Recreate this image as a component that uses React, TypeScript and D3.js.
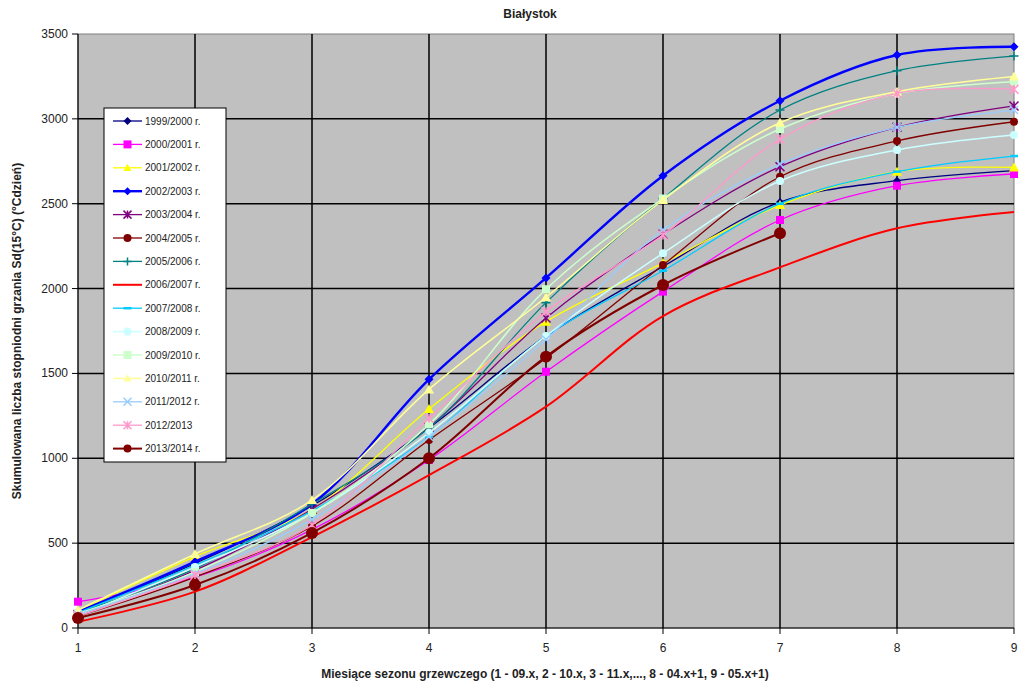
import * as d3 from "d3";

const months = [1, 2, 3, 4, 5, 6, 7, 8, 9];
const yTicks = [0, 500, 1000, 1500, 2000, 2500, 3000, 3500];

const seasons = [
  "1999/2000 r.", "2000/2001 r.", "2001/2002 r.", "2002/2003 r.", "2003/2004 r.",
  "2004/2005 r.", "2005/2006 r.", "2006/2007 r.", "2007/2008 r.", "2008/2009 r.",
  "2009/2010 r.", "2010/2011 r.", "2011/2012 r.", "2012/2013", "2013/2014 r.",
];

const s1999 = [90, 380, 720, 1180, 1720, 2130, 2510, 2636, 2695];
const s2000 = [155, 300, 580, 990, 1510, 1982, 2404, 2606, 2675];
const s2001 = [100, 420, 700, 1290, 1805, 2150, 2492, 2689, 2714];
const s2002 = [95, 391, 730, 1465, 2063, 2665, 3107, 3376, 3425];
const s2003 = [80, 340, 700, 1183, 1827, 2320, 2718, 2950, 3076];
const s2004 = [70, 300, 600, 1108, 1590, 2139, 2659, 2870, 2983];
const s2005 = [90, 350, 730, 1180, 1917, 2530, 3052, 3284, 3370];
const s2006 = [37, 214, 536, 901, 1304, 1838, 2125, 2355, 2451];
const s2007 = [90, 370, 690, 1127, 1720, 2105, 2500, 2689, 2781];
const s2008 = [75, 359, 677, 1150, 1721, 2208, 2634, 2817, 2905];
const s2009 = [85, 330, 677, 1200, 1996, 2530, 2940, 3150, 3219];
const s2010 = [106, 436, 754, 1406, 1949, 2522, 2977, 3160, 3249];
const s2011 = [80, 320, 640, 1127, 1700, 2345, 2734, 2950, 3052];
const s2012 = [70, 312, 607, 1236, 1864, 2316, 2880, 3150, 3174];
const s2013 = [59, 253, 560, 1000, 1599, 2021, 2326];

const values = [s1999, s2000, s2001, s2002, s2003, s2004, s2005, s2006, s2007, s2008, s2009, s2010, s2011, s2012, s2013];

type Style = { color: string; width: number; marker: string; size: number };
const styles: Style[] = [
  { color: "#000080", width: 1.3, marker: "diamond", size: 4 },
  { color: "#ff00ff", width: 1.3, marker: "square", size: 4 },
  { color: "#ffff00", width: 1.3, marker: "triangle", size: 5 },
  { color: "#0000ff", width: 2.4, marker: "diamond", size: 4.5 },
  { color: "#800080", width: 1.3, marker: "star", size: 4.5 },
  { color: "#800000", width: 1.3, marker: "circle", size: 4 },
  { color: "#008080", width: 1.3, marker: "plus", size: 4.5 },
  { color: "#ff0000", width: 2, marker: "none", size: 0 },
  { color: "#00ccff", width: 1.3, marker: "dash", size: 4 },
  { color: "#ccffff", width: 1.5, marker: "circle", size: 4 },
  { color: "#ccffcc", width: 1.5, marker: "square", size: 4 },
  { color: "#ffff99", width: 1.5, marker: "triangle", size: 5 },
  { color: "#99ccff", width: 1.3, marker: "x", size: 4 },
  { color: "#ff99cc", width: 1.3, marker: "star", size: 4.5 },
  { color: "#800000", width: 2, marker: "circle", size: 6 },
];

const W = 1024;
const H = 689;
const m = { left: 78, right: 1014, top: 34, bottom: 628 };
const font = "'Liberation Sans', Arial, sans-serif";

function Marker({ kind, x, y, s, color }: { kind: string; x: number; y: number; s: number; color: string }) {
  switch (kind) {
    case "diamond":
      return <path d={`M${x},${y - s}L${x + s},${y}L${x},${y + s}L${x - s},${y}Z`} fill={color} />;
    case "square":
      return <rect x={x - s} y={y - s} width={2 * s} height={2 * s} fill={color} />;
    case "triangle":
      return <path d={`M${x},${y - s}L${x + s},${y + s * 0.8}L${x - s},${y + s * 0.8}Z`} fill={color} />;
    case "circle":
      return <circle cx={x} cy={y} r={s} fill={color} />;
    case "star":
      return (
        <path
          d={`M${x - s},${y - s}L${x + s},${y + s}M${x - s},${y + s}L${x + s},${y - s}M${x},${y - s}L${x},${y + s}`}
          stroke={color}
          strokeWidth={1.5}
        />
      );
    case "x":
      return <path d={`M${x - s},${y - s}L${x + s},${y + s}M${x - s},${y + s}L${x + s},${y - s}`} stroke={color} strokeWidth={1.5} />;
    case "plus":
      return <path d={`M${x},${y - s}L${x},${y + s}M${x - s},${y}L${x + s},${y}`} stroke={color} strokeWidth={1.5} />;
    case "dash":
      return <path d={`M${x - s},${y}L${x + s},${y}`} stroke={color} strokeWidth={2.5} />;
    default:
      return null;
  }
}

export default function App() {
  const x = d3.scaleLinear().domain([1, 9]).range([m.left, m.right]);
  const y = d3.scaleLinear().domain([0, 3500]).range([m.bottom, m.top]);
  const line = d3
    .line<number>()
    .x((_, i) => x(months[i]))
    .y((d) => y(d))
    .curve(d3.curveCatmullRom.alpha(0.5));

  const legX = 104;
  const legY = 108;
  const legStep = 23.4;

  return (
    <div style={{ position: "fixed", left: 0, top: 0 }}>
      <svg width={W} height={H} style={{ display: "block", background: "#fff" }} fontFamily={font}>
        <text x={530} y={18} textAnchor="middle" fontSize={12} fontWeight="bold" fill="#222">
          Białystok
        </text>

        <rect x={m.left} y={m.top} width={m.right - m.left} height={m.bottom - m.top} fill="#c0c0c0" stroke="#808080" />

        {yTicks.slice(1, -1).map((t) => (
          <line key={t} x1={m.left} x2={m.right} y1={y(t)} y2={y(t)} stroke="#000" strokeWidth={1.5} />
        ))}
        {months.slice(1, -1).map((t) => (
          <line key={t} x1={x(t)} x2={x(t)} y1={m.top} y2={m.bottom} stroke="#000" strokeWidth={1.5} />
        ))}

        <line x1={m.left} x2={m.left} y1={m.top} y2={m.bottom} stroke="#000" strokeWidth={1.2} />
        <line x1={m.left} x2={m.right} y1={m.bottom} y2={m.bottom} stroke="#000" strokeWidth={1.2} />
        {yTicks.map((t) => (
          <g key={t}>
            <line x1={m.left - 6} x2={m.left} y1={y(t)} y2={y(t)} stroke="#000" />
            <text x={m.left - 10} y={y(t) + 4} textAnchor="end" fontSize={12} fill="#222">
              {t}
            </text>
          </g>
        ))}
        {months.map((t) => (
          <g key={t}>
            <line x1={x(t)} x2={x(t)} y1={m.bottom} y2={m.bottom + 6} stroke="#000" />
            <text x={x(t)} y={m.bottom + 24} textAnchor="middle" fontSize={12} fill="#222">
              {t}
            </text>
          </g>
        ))}

        <text x={545} y={678} textAnchor="middle" fontSize={12} fontWeight="bold" fill="#222">
          Miesiące sezonu grzewczego (1 - 09.x, 2 - 10.x, 3 - 11.x,..., 8 - 04.x+1, 9 - 05.x+1)
        </text>
        <text
          transform={`translate(21,331) rotate(-90)`}
          textAnchor="middle"
          fontSize={12}
          fontWeight="bold"
          fill="#222"
        >
          Skumulowana liczba stopniodni grzania Sd(15°C) (°Cdzień)
        </text>

        {values.map((vals, k) => (
          <g key={seasons[k]}>
            <path d={line(vals) ?? ""} fill="none" stroke={styles[k].color} strokeWidth={styles[k].width} />
            {vals.map((v, i) => (
              <Marker key={i} kind={styles[k].marker} x={x(months[i])} y={y(v)} s={styles[k].size} color={styles[k].color} />
            ))}
          </g>
        ))}

        <rect x={legX} y={legY} width={122} height={354} fill="#fff" stroke="#000" />
        {seasons.map((s, k) => {
          const ly = legY + 13 + k * legStep;
          const st = styles[k];
          return (
            <g key={s}>
              <line x1={legX + 9} x2={legX + 38} y1={ly} y2={ly} stroke={st.color} strokeWidth={st.width} />
              <Marker kind={st.marker} x={legX + 23.5} y={ly} s={Math.min(st.size, 4)} color={st.color} />
              <text x={legX + 41} y={ly + 3.5} fontSize={10} fill="#222">
                {s}
              </text>
            </g>
          );
        })}
      </svg>
    </div>
  );
}
